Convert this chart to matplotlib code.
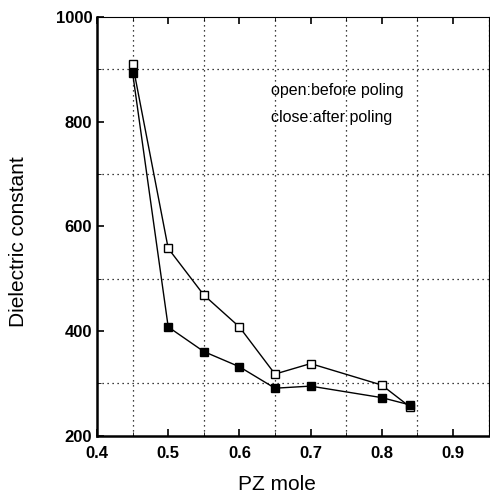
import matplotlib
matplotlib.use("Agg")
import matplotlib.pyplot as plt
from matplotlib.ticker import MultipleLocator

# data
pz = [0.45, 0.50, 0.55, 0.60, 0.65, 0.70, 0.80, 0.84]
before_poling = [910, 558, 469, 408, 318, 338, 297, 255]
after_poling = [893, 408, 361, 332, 291, 295, 273, 259]

plt.rcParams['font.family'] = ['Liberation Sans', 'DejaVu Sans']

fig = plt.figure(figsize=(4.9, 4.97), dpi=100)
ax = fig.add_axes([0.198, 0.123, 0.799, 0.843])

ax.plot(pz, before_poling, '-s', color='black', lw=1.0, ms=6,
        mfc='white', mec='black', mew=1.0, zorder=3)
ax.plot(pz, after_poling, '-s', color='black', lw=1.0, ms=6,
        mfc='black', mec='black', zorder=3)

ax.set_xlim(0.4, 0.95)
ax.set_ylim(200, 1000)
ax.xaxis.set_major_locator(MultipleLocator(0.1))
ax.xaxis.set_minor_locator(MultipleLocator(0.05))
ax.yaxis.set_major_locator(MultipleLocator(200))
ax.yaxis.set_minor_locator(MultipleLocator(100))
ax.xaxis.set_major_formatter(plt.FuncFormatter(lambda v, p: f"{v:.1f}" if v < 0.95 else ""))

ax.grid(True, which='minor', ls=(0, (1, 3)), color='black', lw=0.9)
ax.tick_params(which='both', direction='in', top=True, right=False)
ax.tick_params(which='major', length=5, width=1.2, labelsize=12)
ax.tick_params(axis='x', which='major', pad=7)
ax.tick_params(which='minor', length=3)
for lab in ax.get_xticklabels() + ax.get_yticklabels():
    lab.set_fontweight('bold')
for s in ['left', 'bottom']:
    ax.spines[s].set_linewidth(1.8)

ax.text(0.645, 859, 'open:before poling', fontsize=11.5, va='center')
ax.text(0.645, 808, 'close:after poling', fontsize=11.5, va='center')

ax.set_xlabel('PZ mole', fontsize=15, va='center')
ax.xaxis.set_label_coords(0.46, -0.117)
ax.set_ylabel('Dielectric constant', fontsize=15, va='center')
ax.yaxis.set_label_coords(-0.2, 0.463)

plt.savefig('out.png', dpi=100)
